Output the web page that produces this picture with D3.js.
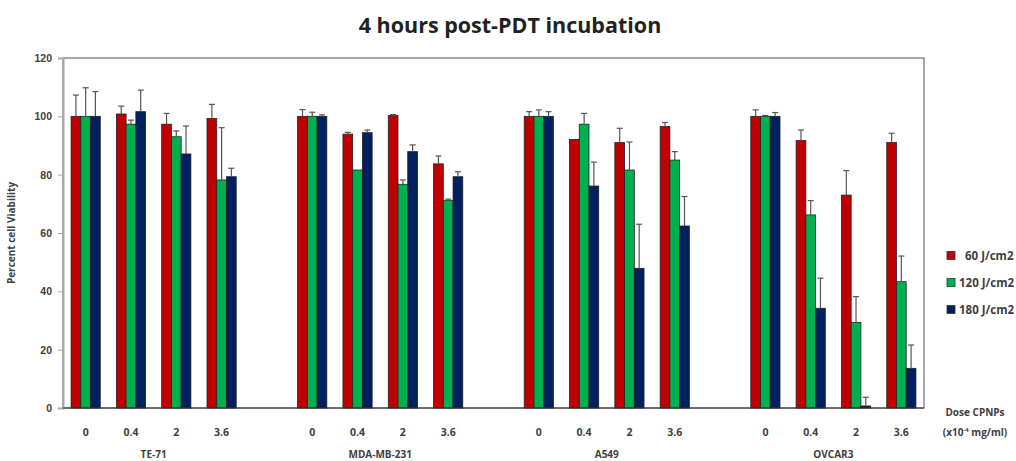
<!DOCTYPE html>
<html>
<head>
<meta charset="utf-8">
<script src="https://cdn.jsdelivr.net/npm/d3@7"></script>
<style>
  body { margin: 0; background: #fff; }
  svg { font-family: "Open Sans", "Liberation Sans", sans-serif; }
  .tick text { fill: #404040; }
</style>
</head>
<body>
<svg width="1016" height="461"></svg>
<script>
// chart values
var cellLines = ["TE-71", "MDA-MB-231", "A549", "OVCAR3"];
var doses = ["0", "0.4", "2", "3.6"];
var seriesNames = ["60 J/cm2", "120 J/cm2", "180 J/cm2"];
var seriesColors = ["#c00000", "#00b050", "#002060"];
var yTicks = [0, 20, 40, 60, 80, 100, 120];

var values60  = [100, 100.8, 97.3, 99.3,  100, 93.9, 100.3, 83.7,  100, 92.1, 91.0, 96.5,  100, 91.7, 73.0, 91.0];
var values120 = [100, 97.3, 93.0, 78.2,   100, 81.6, 76.7, 71.1,   100, 97.3, 81.6, 85.0,  100, 66.2, 29.3, 43.3];
var values180 = [100, 101.6, 87.1, 79.3,  100, 94.4, 87.9, 79.3,   100, 76.1, 47.9, 62.4,  100, 34.2, 0.7, 13.6];
var err60  = [7.3, 2.7, 3.7, 4.8,   2.3, 0.6, 0.3, 2.7,   1.6, 0, 4.9, 1.4,    2.2, 3.6, 8.4, 3.2];
var err120 = [9.8, 1.4, 2.0, 17.9,  1.4, 0, 1.5, 0.5,     2.2, 3.7, 9.6, 2.9,  0.3, 4.9, 8.9, 8.8];
var err180 = [8.5, 7.4, 9.6, 2.9,   0.5, 0.9, 2.3, 1.7,   1.6, 8.2, 15.1, 10.1, 1.3, 10.3, 3.0, 8.0];

var allValues = [values60, values120, values180];
var allErrors = [err60, err120, err180];

var svg = d3.select("svg");
var plotLeft = 63, plotRight = 924, plotTop = 58, plotBottom = 408;

// slots: 4 doses per cell line, one empty slot between lines
var slots = [];
cellLines.forEach(function(c, ci) {
  doses.forEach(function(d) { slots.push(c + "|" + d); });
  if (ci < cellLines.length - 1) slots.push("gap" + ci);
});

var x = d3.scaleBand().domain(slots).range([plotLeft, plotRight]);
var y = d3.scaleLinear().domain([0, 120]).range([plotBottom, plotTop]);
var inner = d3.scaleBand().domain(d3.range(3)).range([-14.6, 14.6]);

// frame
svg.append("rect")
  .attr("x", plotLeft).attr("y", plotTop)
  .attr("width", plotRight - plotLeft).attr("height", plotBottom - plotTop)
  .attr("fill", "none").attr("stroke", "#555").attr("stroke-width", 1);

// y axis
var yAxis = svg.append("g")
  .attr("transform", "translate(" + plotLeft + ",0)")
  .call(d3.axisLeft(y).tickValues(yTicks).tickSize(5).tickPadding(6));
yAxis.select(".domain").attr("stroke", "#aaa").attr("stroke-width", 2);
yAxis.selectAll(".tick line").attr("stroke", "#aaa");
yAxis.selectAll(".tick text").style("font-size", "10.5px").style("font-weight", "bold");

svg.append("text")
  .attr("transform", "translate(15," + ((plotTop + plotBottom) / 2) + ") rotate(-90)")
  .attr("text-anchor", "middle")
  .style("font-size", "10px").style("font-weight", "bold").attr("fill", "#404040")
  .text("Percent cell Viability");

// bars
var barData = [];
cellLines.forEach(function(c, ci) {
  doses.forEach(function(d, di) {
    var idx = ci * 4 + di;
    for (var s = 0; s < 3; s++) {
      barData.push({ slot: c + "|" + d, s: s, v: allValues[s][idx], e: allErrors[s][idx] });
    }
  });
});

function cx(d) { return x(d.slot) + x.bandwidth() / 2 + inner(d.s); }

svg.selectAll(".bar")
  .data(barData)
  .enter().append("rect")
    .attr("class", "bar")
    .attr("x", cx)
    .attr("y", function(d) { return y(d.v); })
    .attr("width", inner.bandwidth())
    .attr("height", function(d) { return y(0) - y(d.v); })
    .attr("fill", function(d) { return seriesColors[d.s]; })
    .attr("stroke", "#222").attr("stroke-width", 0.8);

// error bars
var eb = svg.selectAll(".err")
  .data(barData.filter(function(d) { return d.e > 0.2; }))
  .enter().append("g").attr("class", "err")
  .attr("stroke", "#555").attr("stroke-width", 1.2);
eb.append("line")
  .attr("x1", function(d) { return cx(d) + inner.bandwidth() / 2; })
  .attr("x2", function(d) { return cx(d) + inner.bandwidth() / 2; })
  .attr("y1", function(d) { return y(d.v); })
  .attr("y2", function(d) { return y(d.v + d.e); });
eb.append("line")
  .attr("x1", function(d) { return cx(d) + inner.bandwidth() / 2 - 3; })
  .attr("x2", function(d) { return cx(d) + inner.bandwidth() / 2 + 3; })
  .attr("y1", function(d) { return y(d.v + d.e); })
  .attr("y2", function(d) { return y(d.v + d.e); });

// bottom axis line
svg.append("line")
  .attr("x1", plotLeft).attr("x2", plotRight).attr("y1", plotBottom).attr("y2", plotBottom)
  .attr("stroke", "#333").attr("stroke-width", 1.2);

// dose labels
svg.selectAll(".dose")
  .data(slots.filter(function(s) { return s.indexOf("|") > 0; }))
  .enter().append("text")
    .attr("x", function(s) { return x(s) + x.bandwidth() / 2; })
    .attr("y", 436)
    .attr("text-anchor", "middle")
    .style("font-size", "10.5px").style("font-weight", "bold").attr("fill", "#404040")
    .text(function(s) { return s.split("|")[1]; });

// cell line labels
svg.selectAll(".cell")
  .data(cellLines)
  .enter().append("text")
    .attr("x", function(c) { return (x(c + "|0") + x(c + "|3.6") + x.bandwidth()) / 2; })
    .attr("y", 458)
    .attr("text-anchor", "middle")
    .style("font-size", "10px").style("font-weight", "bold").attr("fill", "#404040")
    .text(function(c) { return c; });

// title
svg.append("text")
  .attr("x", 510).attr("y", 33)
  .attr("text-anchor", "middle")
  .style("font-size", "21.5px").style("font-weight", "bold").attr("fill", "#222")
  .text("4 hours post-PDT incubation");

// legend
var lg = svg.selectAll(".lg")
  .data(seriesNames)
  .enter().append("g").attr("class", "lg")
  .attr("transform", function(d, i) { return "translate(947," + (251.5 + i * 27) + ")"; });
lg.append("rect")
  .attr("width", 8).attr("height", 8)
  .attr("fill", function(d, i) { return seriesColors[i]; })
  .attr("stroke", "#333").attr("stroke-width", 0.8);
lg.append("text")
  .attr("x", function(d, i) { return i === 0 ? 18 : 12; })
  .attr("y", 8.5)
  .style("font-size", "11.5px").style("font-weight", "bold").attr("fill", "#404040")
  .text(function(d) { return d; });

// dose unit label
var du = svg.append("text")
  .attr("text-anchor", "middle")
  .style("font-size", "10px").style("font-weight", "bold").attr("fill", "#404040");
du.append("tspan").attr("x", 975).attr("y", 416).text("Dose CPNPs");
var t2 = du.append("tspan").attr("x", 975).attr("y", 436);
t2.append("tspan").text("(x10");
t2.append("tspan").attr("dy", -4).style("font-size", "6px").text("-4");
t2.append("tspan").attr("dy", 4).text(" mg/ml)");
</script>
</body>
</html>
